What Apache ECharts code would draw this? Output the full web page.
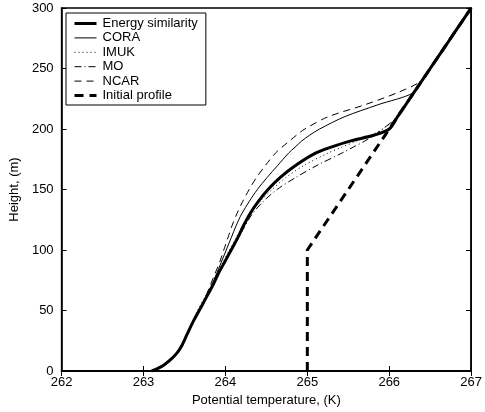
<!DOCTYPE html>
<html>
<head>
<meta charset="utf-8">
<script src="https://cdn.jsdelivr.net/npm/echarts@6/dist/echarts.min.js"></script>
<style>
  html, body { margin: 0; padding: 0; background: #fff; }
  #chart { width: 485px; height: 412px; }
</style>
</head>
<body>
<div id="chart"></div>
<script>
// heights (m) shared by the model profiles
var heights = [0, 2, 5, 10, 15, 20, 30, 40, 50, 60, 70, 80, 90, 100, 110, 120, 130, 140, 150,
  160, 170, 180, 185, 190, 195, 200, 210, 220, 230, 240, 250, 260, 270, 280, 290, 300];

// potential temperature (K) at each height
var energyT = [263.10, 263.17, 263.25, 263.34, 263.41, 263.46, 263.53, 263.60, 263.68, 263.76, 263.84, 263.91,
  263.99, 264.07, 264.15, 264.22, 264.30, 264.40, 264.52, 264.67, 264.86, 265.10, 265.29, 265.52, 265.82,
  266.00, 266.10, 266.20, 266.30, 266.40, 266.50, 266.60, 266.70, 266.80, 266.90, 267.00];
var coraT = [263.10, 263.17, 263.25, 263.34, 263.41, 263.46, 263.53, 263.60, 263.68, 263.76, 263.83, 263.89,
  263.95, 264.01, 264.07, 264.13, 264.20, 264.29, 264.39, 264.51, 264.64, 264.77, 264.85, 264.93, 265.03,
  265.15, 265.45, 265.86, 266.30, 266.40, 266.50, 266.60, 266.70, 266.80, 266.90, 267.00];
var imukT = [263.10, 263.18, 263.27, 263.36, 263.42, 263.47, 263.53, 263.59, 263.66, 263.74, 263.82, 263.89,
  263.97, 264.05, 264.13, 264.21, 264.30, 264.42, 264.57, 264.74, 264.96, 265.25, 265.42, 265.60, 265.78,
  265.92, 266.10, 266.20, 266.30, 266.40, 266.50, 266.60, 266.70, 266.80, 266.90, 267.00];
var moT = [263.10, 263.17, 263.25, 263.34, 263.41, 263.46, 263.53, 263.60, 263.68, 263.76, 263.84, 263.91,
  263.99, 264.08, 264.16, 264.24, 264.33, 264.46, 264.63, 264.86, 265.12, 265.42, 265.56, 265.70, 265.82,
  265.92, 266.10, 266.20, 266.30, 266.40, 266.50, 266.60, 266.70, 266.80, 266.90, 267.00];
var ncarT = [263.10, 263.17, 263.25, 263.34, 263.41, 263.46, 263.53, 263.60, 263.68, 263.75, 263.81, 263.87,
  263.93, 263.98, 264.03, 264.08, 264.14, 264.21, 264.29, 264.38, 264.49, 264.61, 264.69, 264.78, 264.87,
  264.97, 265.25, 265.70, 266.10, 266.40, 266.50, 266.60, 266.70, 266.80, 266.90, 267.00];

var initialT = [265, 265, 266, 267];
var initialH = [0, 100, 200, 300];

function pairs(xs, ys) {
  return xs.map(function (x, i) { return [x, ys[i]]; });
}

var myChart = echarts.init(document.getElementById('chart'));
var font = 'Liberation Sans, Arial, sans-serif';

function line(name, data, width, type, smooth) {
  return {
    name: name,
    type: 'line',
    data: data,
    symbol: 'none',
    smooth: smooth,
    animation: false,
    lineStyle: { color: '#000', width: width, type: type },
    itemStyle: { color: '#000' }
  };
}

var option = {
  animation: false,
  grid: { left: 59, right: 10, top: 8, bottom: 39, show: true, borderColor: '#000', borderWidth: 1.5 },
  legend: {
    orient: 'vertical',
    left: 66, top: 13,
    itemWidth: 22, itemHeight: 14, itemGap: 1.4,
    padding: [4, 8, 3, 7],
    backgroundColor: '#fff',
    borderColor: '#000', borderWidth: 1,
    itemStyle: { opacity: 0 },
    lineStyle: { width: 'inherit' },
    textStyle: { fontFamily: font, fontSize: 13, color: '#000', padding: [0, 0, 0, 1] },
    data: ['Energy similarity', 'CORA', 'IMUK', 'MO', 'NCAR', 'Initial profile']
  },
  xAxis: [{
    type: 'value', min: 262, max: 267, interval: 1,
    name: 'Potential temperature, (K)', nameLocation: 'middle', nameGap: 23,
    nameTextStyle: { fontFamily: font, fontSize: 13, color: '#000' },
    axisLine: { show: true, lineStyle: { color: '#000', width: 1.5 } },
    axisTick: { show: true, inside: true, length: 5, lineStyle: { color: '#000' } },
    axisLabel: { fontFamily: font, fontSize: 13, color: '#000', margin: 5 },
    splitLine: { show: false }
  }, {
    type: 'value', min: 262, max: 267, interval: 1, position: 'top',
    axisLine: { show: true, lineStyle: { color: '#000', width: 1.5 } },
    axisTick: { show: true, inside: true, length: 5, lineStyle: { color: '#000' } },
    axisLabel: { show: false }, splitLine: { show: false }
  }],
  yAxis: [{
    type: 'value', min: 0, max: 300, interval: 50,
    name: 'Height, (m)', nameLocation: 'middle', nameGap: 31,
    nameTextStyle: { fontFamily: font, fontSize: 13, color: '#000' },
    axisLine: { show: true, lineStyle: { color: '#000', width: 1.5 } },
    axisTick: { show: true, inside: true, length: 5, lineStyle: { color: '#000' } },
    axisLabel: { fontFamily: font, fontSize: 13, color: '#000', margin: 8 },
    splitLine: { show: false }
  }, {
    type: 'value', min: 0, max: 300, interval: 50, position: 'right',
    axisLine: { show: true, lineStyle: { color: '#000', width: 1.5 } },
    axisTick: { show: true, inside: true, length: 5, lineStyle: { color: '#000' } },
    axisLabel: { show: false }, splitLine: { show: false }
  }],
  series: [
    line('Initial profile', pairs(initialT, initialH), 3, [9, 6], false),
    line('NCAR', pairs(ncarT, heights), 1, [7, 5], 0.3),
    line('MO', pairs(moT, heights), 1, [7, 3, 1, 3], 0.3),
    line('IMUK', pairs(imukT, heights), 1, [1, 3], 0.3),
    line('CORA', pairs(coraT, heights), 1, 'solid', 0.3),
    line('Energy similarity', pairs(energyT, heights), 3, 'solid', 0.3)
  ]
};

myChart.setOption(option);
</script>
</body>
</html>
